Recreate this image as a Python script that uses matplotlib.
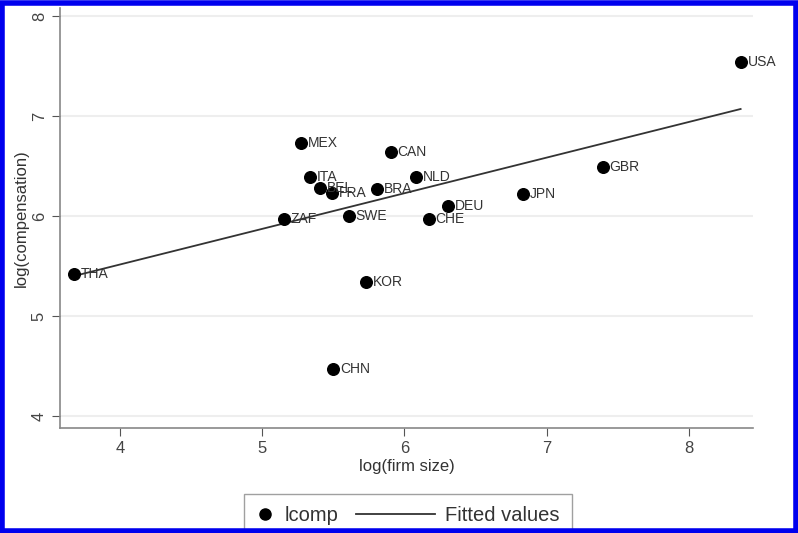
import matplotlib.pyplot as plt
import numpy as np
from matplotlib.patches import Rectangle
from matplotlib.lines import Line2D
from matplotlib.legend_handler import HandlerBase

# valori: log(firm size), log(compensation)
countries = ["THA", "ZAF", "ITA", "BEL", "FRA", "BRA", "NLD", "SWE", "DEU",
             "CHE", "KOR", "CHN", "JPN", "GBR", "USA", "MEX", "CAN"]
log_size = [3.677, 5.152, 5.335, 5.405, 5.490, 5.806, 6.080, 5.609, 6.305,
            6.171, 5.729, 5.497, 6.832, 7.394, 8.364, 5.272, 5.904]
log_comp = [5.42, 5.97, 6.39, 6.28, 6.23, 6.27, 6.39, 6.00, 6.10,
            5.97, 5.34, 4.47, 6.22, 6.49, 7.54, 6.73, 6.64]

# retta "Fitted values" letta agli estremi
fitted_x = [3.677, 8.364]
fitted_y = [5.40, 7.07]


class HandlerLongLine(HandlerBase):
    # la linea della legenda si allunga verso sinistra
    def create_artists(self, legend, orig_handle, xdescent, ydescent,
                       width, height, fontsize, trans):
        extra = 3.0 * fontsize
        line = Line2D([-xdescent - extra, width - xdescent],
                      [height / 2 - ydescent] * 2,
                      color=orig_handle.get_color(),
                      lw=orig_handle.get_linewidth())
        line.set_transform(trans)
        return [line]


def main():
    plt.rcParams["font.family"] = ["Liberation Sans", "DejaVu Sans"]

    x = np.array(log_size)
    y = np.array(log_comp)

    fig = plt.figure(figsize=(7.98, 5.33), dpi=100)
    ax = fig.add_axes([0.0752, 0.197, 0.8684, 0.788])

    fit_line, = ax.plot(fitted_x, fitted_y, color="#333333", lw=1.3,
                        label="Fitted values", zorder=2)

    ax.scatter(x, y, s=70, color="black", zorder=3)
    for name, xi, yi in zip(countries, x, y):
        ax.annotate(name, (xi, yi), xytext=(5, 0), textcoords="offset points",
                    va="center", ha="left", fontsize=10, color="#333333")

    ax.set_xlim(3.578, 8.451)
    ax.set_ylim(3.88, 8.08)
    ax.set_xticks([4, 5, 6, 7, 8])
    ax.set_yticks([4, 5, 6, 7, 8])
    ax.tick_params(axis="both", labelsize=12, colors="#555555",
                   labelcolor="#444444", length=6)
    for lab in ax.get_yticklabels():
        lab.set_rotation(90)
        lab.set_va("center")
    ax.grid(axis="y", color="#eeeeee", lw=1.5)
    ax.set_axisbelow(True)
    for side in ["top", "right"]:
        ax.spines[side].set_visible(False)
    for side in ["left", "bottom"]:
        ax.spines[side].set_color("#888888")
        ax.spines[side].set_linewidth(1.2)

    ax.set_xlabel("log(firm size)", fontsize=12, color="#333333", labelpad=2)
    ax.set_ylabel("log(compensation)", fontsize=12, color="#333333", labelpad=2)

    dot = Line2D([], [], marker="o", ls="none", color="black", markersize=8)
    leg = fig.legend([dot, fit_line], ["lcomp", "Fitted values"],
                     loc="upper center", bbox_to_anchor=(0.511, 0.092), ncol=2,
                     fontsize=14.5, frameon=True, fancybox=False,
                     handlelength=0.9, handletextpad=0.5, columnspacing=3.9,
                     borderpad=0.6, handler_map={fit_line: HandlerLongLine()})
    leg.get_frame().set_edgecolor("#888888")
    leg.get_frame().set_linewidth(1.0)
    for t in leg.get_texts():
        t.set_color("#333333")

    # cornice blu
    fig.patches.append(Rectangle((0.003, 0.004), 0.994, 0.99,
                                 transform=fig.transFigure, fill=False,
                                 edgecolor="#0000ee", lw=4, zorder=10))

    plt.savefig("out.png", dpi=100)
    plt.close()


if __name__ == "__main__":
    main()
